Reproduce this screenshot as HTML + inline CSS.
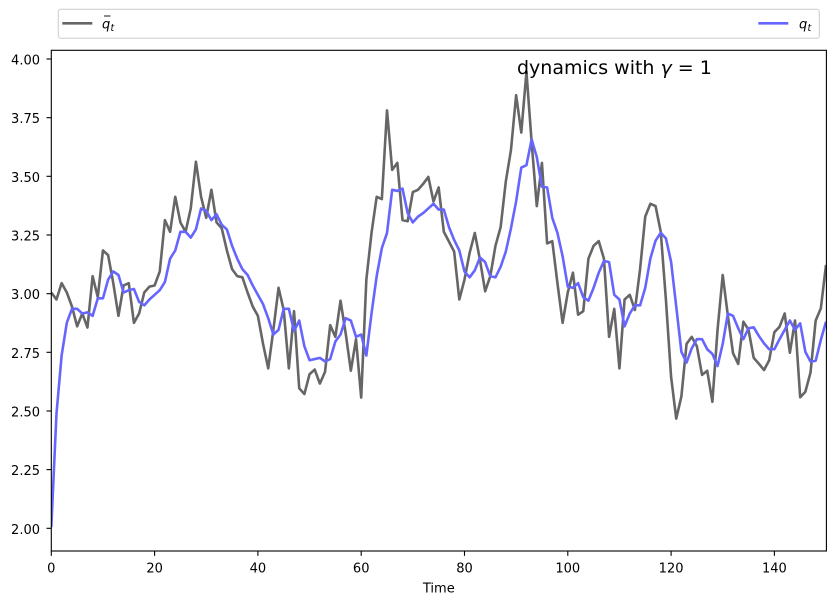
<!DOCTYPE html>
<html><head><meta charset="utf-8"><style>
html,body{margin:0;padding:0;background:#fff;}
svg{display:block;}
text{font-family:"DejaVu Sans","Liberation Sans",sans-serif;fill:#000;}
</style></head><body>
<svg width="835" height="604" viewBox="0 0 835 604" xmlns="http://www.w3.org/2000/svg">
<defs><clipPath id="ax"><rect x="51.3" y="50.3" width="775.1" height="500.7"/></clipPath></defs>
<rect width="835" height="604" fill="#fff"/>
<g clip-path="url(#ax)">
<g transform="translate(51.3,59) scale(5.1647,-233.5) translate(0,-4)">
<polyline fill="none" stroke="#666666" stroke-width="2.6" vector-effect="non-scaling-stroke" stroke-linejoin="round" points="0,3.0 1,2.97 2,3.04 3,3.0 4,2.94 5,2.855 6,2.91 7,2.85 8,3.07 9,2.98 10,3.18 11,3.16 12,3.04 13,2.9 14,3.03 15,3.04 16,2.87 17,2.91 18,3.0 19,3.025 20,3.03 21,3.09 22,3.31 23,3.26 24,3.41 25,3.3 26,3.26 27,3.36 28,3.56 29,3.41 30,3.32 31,3.44 32,3.3 33,3.275 34,3.18 35,3.1 36,3.07 37,3.065 38,3.0 39,2.94 40,2.9 41,2.78 42,2.675 43,2.84 44,3.02 45,2.925 46,2.675 47,2.92 48,2.59 49,2.565 50,2.65 51,2.67 52,2.61 53,2.66 54,2.86 55,2.81 56,2.965 57,2.825 58,2.665 59,2.8 60,2.55 61,3.055 62,3.255 63,3.41 64,3.4 65,3.78 66,3.525 67,3.555 68,3.31 69,3.305 70,3.43 71,3.44 72,3.465 73,3.495 74,3.39 75,3.45 76,3.26 77,3.218 78,3.175 79,2.97 80,3.055 81,3.17 82,3.255 83,3.14 84,3.005 85,3.07 86,3.2 87,3.28 88,3.475 89,3.61 90,3.845 91,3.685 92,3.945 93,3.645 94,3.37 95,3.555 96,3.21 97,3.22 98,3.04 99,2.87 100,3.0 101,3.085 102,2.905 103,2.92 104,3.145 105,3.2 106,3.22 107,3.145 108,2.81 109,2.93 110,2.675 111,2.97 112,2.99 113,2.925 114,3.1 115,3.325 116,3.38 117,3.37 118,3.26 119,2.97 120,2.64 121,2.46 122,2.555 123,2.78 124,2.81 125,2.77 126,2.647 127,2.665 128,2.532 129,2.84 130,3.075 131,2.9 132,2.74 133,2.694 134,2.875 135,2.84 136,2.72 137,2.695 138,2.668 139,2.71 140,2.83 141,2.853 142,2.91 143,2.742 144,2.88 145,2.551 146,2.575 147,2.657 148,2.88 149,2.932 150,3.118"/>
<polyline fill="none" stroke="#6666ff" stroke-width="2.6" vector-effect="non-scaling-stroke" stroke-linejoin="round" points="0,1.995 1,2.48 2,2.73 3,2.87 4,2.93 5,2.93 6,2.91 7,2.915 8,2.9 9,2.975 10,2.975 11,3.055 12,3.09 13,3.075 14,3.0 15,3.01 16,3.015 17,2.96 18,2.945 19,2.97 20,2.99 21,3.01 22,3.045 23,3.145 24,3.18 25,3.26 26,3.26 27,3.235 28,3.27 29,3.36 30,3.35 31,3.31 32,3.335 33,3.29 34,3.27 35,3.2 36,3.145 37,3.1 38,3.075 39,3.03 40,2.99 41,2.95 42,2.89 43,2.82 44,2.84 45,2.93 46,2.93 47,2.835 48,2.88 49,2.77 50,2.71 51,2.715 52,2.72 53,2.705 54,2.715 55,2.79 56,2.82 57,2.89 58,2.88 59,2.81 60,2.82 61,2.73 62,2.91 63,3.07 64,3.19 65,3.255 66,3.44 67,3.435 68,3.445 69,3.34 70,3.3 71,3.325 72,3.34 73,3.36 74,3.38 75,3.355 76,3.355 77,3.28 78,3.225 79,3.18 80,3.09 81,3.065 82,3.095 83,3.15 84,3.13 85,3.07 86,3.065 87,3.11 88,3.175 89,3.275 90,3.39 91,3.535 92,3.545 93,3.656 94,3.58 95,3.453 96,3.45 97,3.32 98,3.255 99,3.155 100,3.025 101,3.02 102,3.04 103,2.98 104,2.965 105,3.02 106,3.085 107,3.135 108,3.13 109,2.99 110,2.97 111,2.855 112,2.91 113,2.945 114,2.945 115,3.02 116,3.146 117,3.222 118,3.256 119,3.232 120,3.132 121,2.94 122,2.746 123,2.7 124,2.761 125,2.8 126,2.8 127,2.757 128,2.737 129,2.685 130,2.78 131,2.91 132,2.9 133,2.847 134,2.8 135,2.847 136,2.851 137,2.814 138,2.782 139,2.757 140,2.757 141,2.8 142,2.84 143,2.88 144,2.84 145,2.868 146,2.746 147,2.704 148,2.708 149,2.797 150,2.875"/>
</g>
</g>
<!-- axes frame -->
<rect x="51.3" y="50.3" width="775.1" height="500.7" fill="none" stroke="#000" stroke-width="1.1"/>
<!-- y ticks -->
<g stroke="#000" stroke-width="1.1">
<line x1="46.5" y1="59" x2="51.3" y2="59"/>
<line x1="46.5" y1="117.7" x2="51.3" y2="117.7"/>
<line x1="46.5" y1="176.3" x2="51.3" y2="176.3"/>
<line x1="46.5" y1="235" x2="51.3" y2="235"/>
<line x1="46.5" y1="293.7" x2="51.3" y2="293.7"/>
<line x1="46.5" y1="352.3" x2="51.3" y2="352.3"/>
<line x1="46.5" y1="411" x2="51.3" y2="411"/>
<line x1="46.5" y1="469.6" x2="51.3" y2="469.6"/>
<line x1="46.5" y1="528.3" x2="51.3" y2="528.3"/>
</g>
<g font-size="13" text-anchor="end">
<text x="40" y="64.5">4.00</text>
<text x="40" y="123.2">3.75</text>
<text x="40" y="181.8">3.50</text>
<text x="40" y="240.5">3.25</text>
<text x="40" y="299.2">3.00</text>
<text x="40" y="357.8">2.75</text>
<text x="40" y="416.5">2.50</text>
<text x="40" y="475.1">2.25</text>
<text x="40" y="533.8">2.00</text>
</g>
<!-- x ticks -->
<g stroke="#000" stroke-width="1.1">
<line x1="51.3" y1="551" x2="51.3" y2="555.8"/>
<line x1="154.6" y1="551" x2="154.6" y2="555.8"/>
<line x1="257.9" y1="551" x2="257.9" y2="555.8"/>
<line x1="361.2" y1="551" x2="361.2" y2="555.8"/>
<line x1="464.5" y1="551" x2="464.5" y2="555.8"/>
<line x1="567.8" y1="551" x2="567.8" y2="555.8"/>
<line x1="671.1" y1="551" x2="671.1" y2="555.8"/>
<line x1="774.4" y1="551" x2="774.4" y2="555.8"/>
</g>
<g font-size="13" text-anchor="middle">
<text x="51.3" y="572.3">0</text>
<text x="154.6" y="572.3">20</text>
<text x="257.9" y="572.3">40</text>
<text x="361.2" y="572.3">60</text>
<text x="464.5" y="572.3">80</text>
<text x="567.8" y="572.3">100</text>
<text x="671.1" y="572.3">120</text>
<text x="774.4" y="572.3">140</text>
<text x="438.8" y="592.5">Time</text>
</g>
<!-- title annotation -->
<text x="517" y="74" font-size="19">dynamics with <tspan font-style="italic">γ</tspan> = 1</text>
<!-- legend -->
<rect x="58.3" y="9.3" width="761" height="29" rx="2.5" ry="2.5" fill="#fff" stroke="#cccccc" stroke-width="1"/>
<line x1="62.3" y1="23.3" x2="92.3" y2="23.3" stroke="#666666" stroke-width="2.6"/>
<text x="102" y="28.5" font-size="13" font-style="italic">q</text>
<line x1="104" y1="16" x2="110.5" y2="16" stroke="#000" stroke-width="0.9"/>
<text x="110.5" y="31" font-size="9.5" font-style="italic">t</text>
<line x1="758.3" y1="23.3" x2="788.3" y2="23.3" stroke="#6666ff" stroke-width="2.6"/>
<text x="799" y="28.5" font-size="13" font-style="italic">q</text>
<text x="807.5" y="31" font-size="9.5" font-style="italic">t</text>
</svg>
</body></html>
